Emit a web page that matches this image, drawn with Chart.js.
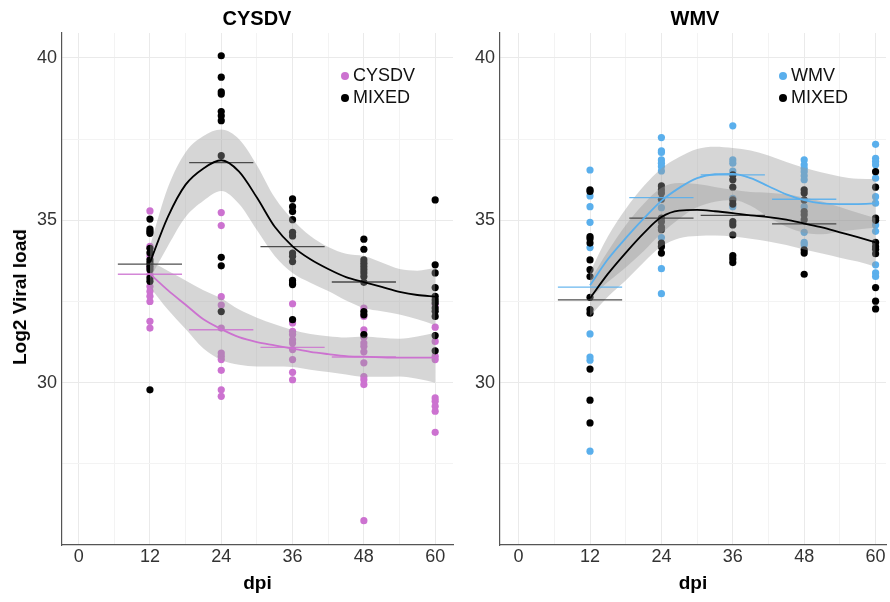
<!DOCTYPE html>
<html><head><meta charset="utf-8">
<script src="https://cdn.jsdelivr.net/npm/chart.js@4.4.1/dist/chart.umd.min.js"></script>
<style>
body{margin:0;background:#fff;width:890px;height:602px;overflow:hidden;position:relative;font-family:"Liberation Sans",Arial,sans-serif;}
#w1{position:absolute;left:0;top:0;width:460px;height:602px}
#w2{position:absolute;left:460px;top:0;width:430px;height:602px}
.ttl{position:absolute;top:6px;font-weight:bold;font-size:20px;line-height:24px;transform:translateX(-50%);color:#000;white-space:nowrap}
.leg{position:absolute;font-size:18px;color:#111;line-height:22px;white-space:nowrap}
.dot{display:inline-block;width:8px;height:8px;border-radius:50%;margin-right:4px;vertical-align:1px}
.ytl{position:absolute;left:20px;top:297px;font-weight:bold;font-size:19px;line-height:22px;color:#000;white-space:nowrap;transform:translate(-50%,-50%) rotate(-90deg)}
</style></head>
<body>
<div id="w1"><canvas id="c1" width="460" height="602"></canvas></div>
<div id="w2"><canvas id="c2" width="430" height="602"></canvas></div>
<div class="ttl" style="left:257px">CYSDV</div>
<div class="ttl" style="left:695px">WMV</div>
<div class="ytl">Log2 Viral load</div>
<div class="leg" style="left:341px;top:64px"><span class="dot" style="background:#CC72D0"></span>CYSDV<br><span class="dot" style="background:#000"></span>MIXED</div>
<div class="leg" style="left:779px;top:64px"><span class="dot" style="background:#5AAFEC"></span>WMV<br><span class="dot" style="background:#000"></span>MIXED</div>
<script>
// ---------- data ----------
const timepoints = [12, 24, 36, 48, 60];
const xTickVals = [0, 6, 12, 18, 24, 30, 36, 42, 48, 54, 60];
const yTickVals = [27.5, 30, 32.5, 35, 37.5, 40];

// CYSDV panel
const cysdvSingle = [
  [35.29, 34.2, 33.9, 33.55, 33.32, 32.96, 32.81, 32.66, 32.50, 31.89, 31.68],
  [35.24, 34.84, 32.65, 32.39, 31.68, 30.91, 30.81, 30.71, 30.38, 29.78, 29.58],
  [32.43, 31.84, 31.58, 31.48, 31.32, 31.22, 31.02, 30.71, 30.32, 30.09],
  [32.3, 32.04, 31.63, 31.4, 31.22, 31.12, 30.95, 30.61, 30.19, 30.09, 29.94, 25.75],
  [32.4, 31.71, 31.27, 30.81, 30.71, 29.53, 29.43, 29.27, 29.12, 28.47]
];
const cysdvMixed = [
  [35.04, 34.73, 34.66, 34.6, 34.14, 34.0, 33.78, 33.68, 33.58, 33.48, 33.22, 33.12, 29.78],
  [40.07, 39.41, 38.96, 38.89, 38.35, 38.22, 38.07, 36.99, 33.86, 33.6, 32.19],
  [35.66, 35.42, 35.27, 35.02, 34.63, 34.52, 33.99, 33.89, 33.73, 33.15, 33.07, 33.02, 31.94],
  [34.42, 34.11, 33.78, 33.68, 33.58, 33.48, 33.38, 33.27, 33.09, 32.19, 32.09, 31.48],
  [35.63, 33.63, 33.38, 32.93, 32.66, 32.55, 32.45, 32.3, 32.2, 32.04, 31.45, 30.98]
];
const meanX = [12, 24, 36, 48];
const cysdvSingleMean = [33.34, 31.63, 31.09, 30.79];
const cysdvMixedMean = [33.65, 36.78, 34.19, 33.1];

const fitX = [12, 15, 18, 21, 24, 27, 30, 33, 36, 39, 42, 45, 48, 51, 54, 57, 60];
const cysdvSingleFit = [33.35, 32.85, 32.4, 31.95, 31.65, 31.4, 31.25, 31.15, 31.05, 30.95, 30.88, 30.82, 30.8, 30.78, 30.77, 30.77, 30.77];
const cysdvSingleLo  = [32.95, 32.25, 31.65, 31.05, 30.70, 30.55, 30.50, 30.50, 30.48, 30.40, 30.33, 30.25, 30.18, 30.18, 30.19, 30.12, 30.00];
const cysdvSingleHi  = [33.75, 33.45, 33.15, 32.85, 32.60, 32.25, 32.00, 31.80, 31.62, 31.50, 31.43, 31.39, 31.42, 31.38, 31.35, 31.42, 31.54];
const cysdvMixedFit = [33.7, 35.1, 36.1, 36.6, 36.85, 36.5, 35.7, 34.8, 34.2, 33.8, 33.5, 33.25, 33.1, 32.95, 32.8, 32.7, 32.65];
const cysdvMixedLo  = [33.2, 34.2, 35.1, 35.6, 35.9, 35.5, 34.7, 33.9, 33.38, 33.08, 32.82, 32.53, 32.3, 32.2, 32.1, 31.95, 31.77];
const cysdvMixedHi  = [34.2, 36.0, 37.1, 37.6, 37.8, 37.5, 36.7, 35.7, 35.02, 34.52, 34.18, 33.97, 33.9, 33.7, 33.5, 33.45, 33.53];

// WMV panel
const wmvSingle = [
  [36.55, 35.75, 35.42, 34.94, 34.16, 31.5, 30.79, 30.69, 27.89],
  [37.55, 37.14, 37.09, 36.86, 36.76, 36.66, 36.52, 35.39, 34.47, 33.51, 32.74],
  [37.91, 36.86, 36.76, 36.52, 35.68, 35.42],
  [36.86, 36.71, 36.6, 36.5, 36.37, 36.25, 35.42, 34.63, 34.32, 34.25],
  [37.34, 36.91, 36.81, 36.71, 36.3, 35.73, 35.53, 34.86, 34.66, 33.63, 33.38, 33.27]
];
const wmvMixed = [
  [35.94, 35.89, 34.5, 34.43, 34.3, 33.78, 33.48, 33.27, 32.63, 32.25, 32.14, 30.42, 29.46, 28.76],
  [36.06, 35.94, 35.84, 35.65, 35.07, 34.96, 34.79, 34.71, 34.3, 34.19, 33.99],
  [36.4, 36.25, 36.02, 35.63, 35.5, 34.96, 34.86, 34.55, 33.91, 33.81, 33.7],
  [35.94, 35.84, 35.63, 35.27, 35.17, 35.02, 34.09, 33.99, 33.34],
  [36.5, 36.02, 35.07, 35.0, 34.32, 34.19, 34.11, 33.97, 32.93, 32.51, 32.27]
];
const wmvSingleMean = [32.94, 35.7, 36.4, 35.65];
const wmvMixedMean = [32.55, 35.07, 35.15, 34.89];
const wmvSingleFit = [33.0, 33.8, 34.45, 35.05, 35.6, 36.0, 36.3, 36.42, 36.43, 36.3, 36.05, 35.8, 35.62, 35.52, 35.5, 35.5, 35.52];
const wmvSingleLo  = [32.6, 33.1, 33.55, 34.05, 34.6, 35.05, 35.4, 35.57, 35.63, 35.45, 35.1, 34.8, 34.62, 34.57, 34.65, 34.72, 34.77];
const wmvSingleHi  = [33.4, 34.5, 35.35, 36.05, 36.6, 36.95, 37.2, 37.27, 37.23, 37.15, 37.0, 36.8, 36.62, 36.47, 36.35, 36.28, 36.27];
const wmvMixedFit = [32.6, 33.35, 34.0, 34.6, 35.1, 35.3, 35.32, 35.28, 35.22, 35.15, 35.1, 35.02, 34.9, 34.78, 34.63, 34.48, 34.32];
const wmvMixedLo  = [32.05, 32.65, 33.15, 33.7, 34.2, 34.45, 34.52, 34.53, 34.5, 34.43, 34.35, 34.24, 34.1, 33.98, 33.85, 33.73, 33.57];
const wmvMixedHi  = [33.15, 34.05, 34.85, 35.5, 36.0, 36.15, 36.12, 36.03, 35.94, 35.87, 35.85, 35.8, 35.7, 35.58, 35.41, 35.23, 35.07];

// ---------- helpers ----------
const PINK = '#CC72D0', BLUE = '#5AAFEC', BLACK = '#000000';
const BAND = 'rgba(153,153,153,0.4)';
const SEG = 5.4;
const FONT = '"Liberation Sans", Arial';
function pts(vals){ const out=[]; timepoints.forEach((t,i)=>vals[i].forEach(v=>out.push({x:t,y:v}))); return out; }
function curve(ys){ return fitX.map((x,i)=>({x:x,y:ys[i]})); }
function segs(means){ const out=[]; meanX.forEach((t,i)=>{ out.push({x:t-SEG,y:means[i]},{x:t+SEG,y:means[i]},{x:t+SEG,y:null}); }); return out; }

function panel(id, p){
  const ds = [
    {type:'scatter', data:pts(p.single), backgroundColor:p.col, borderWidth:0, pointRadius:3.6, order:10},
    {type:'scatter', data:pts(p.mixed), backgroundColor:BLACK, borderWidth:0, pointRadius:3.6, order:9},
    {type:'line', data:curve(p.sLo), borderWidth:0, pointRadius:0, fill:false, cubicInterpolationMode:'monotone', order:5},
    {type:'line', data:curve(p.sHi), borderWidth:0, pointRadius:0, fill:'-1', backgroundColor:BAND, cubicInterpolationMode:'monotone', order:5},
    {type:'line', data:curve(p.mLo), borderWidth:0, pointRadius:0, fill:false, cubicInterpolationMode:'monotone', order:5},
    {type:'line', data:curve(p.mHi), borderWidth:0, pointRadius:0, fill:'-1', backgroundColor:BAND, cubicInterpolationMode:'monotone', order:5},
    {type:'line', data:curve(p.sFit), borderColor:p.col, borderWidth:1.8, pointRadius:0, fill:false, cubicInterpolationMode:'monotone', order:1},
    {type:'line', data:curve(p.mFit), borderColor:BLACK, borderWidth:1.8, pointRadius:0, fill:false, cubicInterpolationMode:'monotone', order:1},
    {type:'line', data:segs(p.sMean), borderColor:p.segCol, borderWidth:1.3, pointRadius:0, fill:false, spanGaps:false, tension:0, order:2},
    {type:'line', data:segs(p.mMean), borderColor:'rgba(60,60,60,0.9)', borderWidth:1.3, pointRadius:0, fill:false, spanGaps:false, tension:0, order:2}
  ];
  return new Chart(document.getElementById(id), {
    type:'scatter',
    data:{datasets:ds},
    options:{
      responsive:false, animation:false,
      layout:{padding:{top:33, right:p.padR, left:0, bottom:0}},
      plugins:{legend:{display:false}, tooltip:{enabled:false}, title:{display:false}},
      scales:{
        x:{type:'linear', min:p.xmin, max:p.xmax,
           afterBuildTicks:s=>{ s.ticks = xTickVals.map(v=>({value:v})); },
           afterFit:s=>{ s.height = 57; },
           ticks:{callback:v=> (v%12===0 ? String(v) : ''), color:'#333', font:{family:FONT, size:18}, padding:1, autoSkip:false, maxRotation:0},
           grid:{color:c=> (c.tick && c.tick.value%12===0 ? '#EAEAEA' : '#F3F3F3'), lineWidth:1, drawTicks:false},
           border:{display:true, color:'#555', width:1.2},
           title:{display:true, text:'dpi', color:'#000', font:{family:FONT, size:19, weight:'bold'}, padding:{top:0,bottom:7}}
        },
        y:{type:'linear', min:25.0, max:40.77,
           afterBuildTicks:s=>{ s.ticks = yTickVals.map(v=>({value:v})); },
           afterFit:s=>{ s.width = p.yW; },
           ticks:{callback:v=> (v%5===0 ? String(v) : ''), color:'#333', font:{family:FONT, size:18}, padding:5},
           grid:{color:c=> (c.tick && c.tick.value%5===0 ? '#EAEAEA' : '#F3F3F3'), lineWidth:1, drawTicks:false},
           border:{display:true, color:'#555', width:1.2},
           title:{display:false}
        }
      }
    }
  });
}

panel('c1', {single:cysdvSingle, mixed:cysdvMixed, col:PINK, segCol:'rgba(204,114,208,0.85)',
  sFit:cysdvSingleFit, sLo:cysdvSingleLo, sHi:cysdvSingleHi, mFit:cysdvMixedFit, mLo:cysdvMixedLo, mHi:cysdvMixedHi,
  sMean:cysdvSingleMean, mMean:cysdvMixedMean, xmin:-2.8, xmax:63, padR:7, yW:62});
panel('c2', {single:wmvSingle, mixed:wmvMixed, col:BLUE, segCol:'rgba(90,175,236,0.9)',
  sFit:wmvSingleFit, sLo:wmvSingleLo, sHi:wmvSingleHi, mFit:wmvMixedFit, mLo:wmvMixedLo, mHi:wmvMixedHi,
  sMean:wmvSingleMean, mMean:wmvMixedMean, xmin:-3.13, xmax:61.75, padR:0, yW:40});
</script>
</body></html>
